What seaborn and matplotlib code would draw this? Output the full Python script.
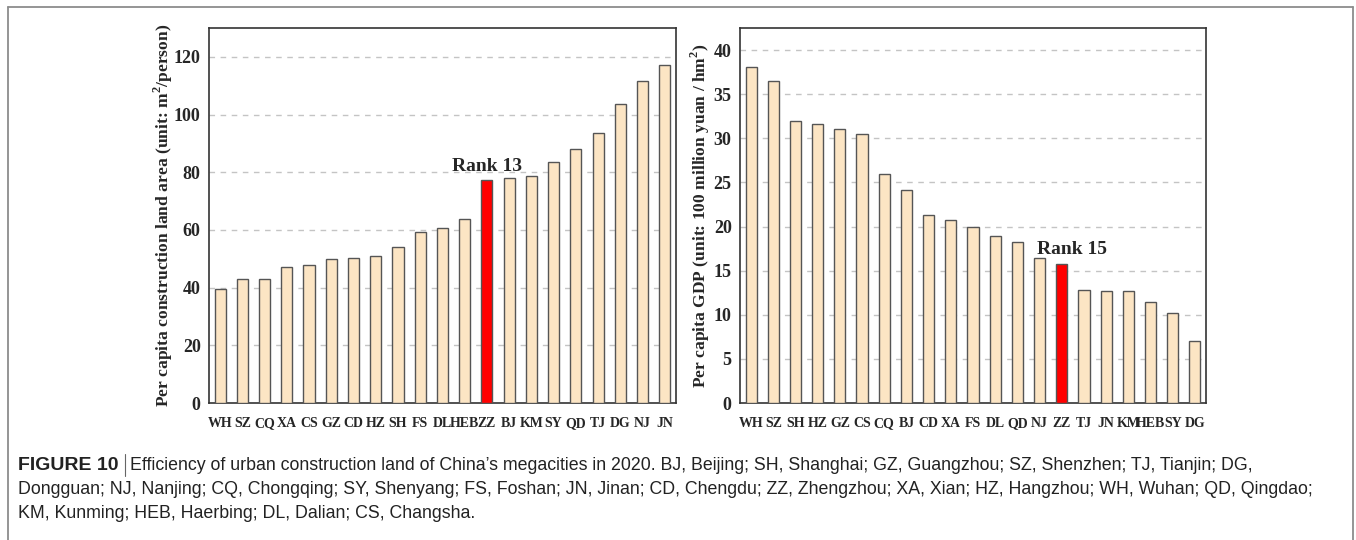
import pandas as pd
import seaborn as sns
import matplotlib.pyplot as plt
import numpy as np

# per capita construction land area (m2/person), sorted ascending
land_cities = ['WH', 'SZ', 'CQ', 'XA', 'CS', 'GZ', 'CD', 'HZ', 'SH', 'FS', 'DL',
               'HEB', 'ZZ', 'BJ', 'KM', 'SY', 'QD', 'TJ', 'DG', 'NJ', 'JN']
land_values = [39.4, 43.1, 43.1, 47.0, 47.8, 49.8, 50.2, 50.9, 54.1, 59.4, 60.5,
               63.9, 77.2, 78.1, 78.6, 83.4, 88.0, 93.5, 103.6, 111.7, 117.3]

# per capita GDP (100 million yuan / hm2), sorted descending
gdp_cities = ['WH', 'SZ', 'SH', 'HZ', 'GZ', 'CS', 'CQ', 'BJ', 'CD', 'XA', 'FS',
              'DL', 'QD', 'NJ', 'ZZ', 'TJ', 'JN', 'KM', 'HEB', 'SY', 'DG']
gdp_values = [38.1, 36.5, 32.0, 31.6, 31.05, 30.5, 26.0, 24.1, 21.3, 20.7, 20.0,
              18.9, 18.3, 16.4, 15.7, 12.8, 12.7, 12.65, 11.45, 10.2, 7.0]

highlight = 'ZZ'
bar_col = '#FCE5C4'
hl_col = '#FF0000'

sns.set_style('white')
plt.rcParams['font.family'] = ['Liberation Serif', 'DejaVu Serif']
plt.rcParams['mathtext.fontset'] = 'custom'
plt.rcParams['mathtext.rm'] = 'Liberation Serif:bold'
plt.rcParams['mathtext.bf'] = 'Liberation Serif:bold'

fig = plt.figure(figsize=(13.56, 5.40), dpi=100)
ax1 = fig.add_axes([0.1541, 0.2537, 0.3444, 0.6944])
ax2 = fig.add_axes([0.5457, 0.2537, 0.3437, 0.6944])


def draw(ax, cities, values, ylim, yticks, ylabel, lpad, rank_text, rank_x, rank_y):
    df = pd.DataFrame({'city': cities, 'value': values})
    pal = {c: (hl_col if c == highlight else bar_col) for c in cities}
    sns.barplot(data=df, x='city', y='value', hue='city', palette=pal,
                order=cities, width=0.5, edgecolor='#555555', linewidth=1.0,
                saturation=1, legend=False, ax=ax, zorder=3)
    ax.set_xlim(-0.5, len(cities) - 0.5)
    ax.set_ylim(*ylim)
    ax.set_yticks(yticks)
    ax.set_yticklabels([str(t) for t in yticks], fontsize=13, fontweight='bold')
    ax.set_xticks(range(len(cities)))
    ax.set_xticklabels(cities, fontsize=10, fontweight='bold')
    for lab in ax.get_xticklabels():
        lab.set_verticalalignment('center_baseline')
    ax.tick_params(axis='x', which='major', length=0, pad=14)
    ax.set_xticks(np.arange(0.5, len(cities) - 0.5, 1), minor=True)
    ax.tick_params(axis='x', which='minor', direction='in', length=3, width=1, color='#333333')
    ax.tick_params(axis='y', which='major', direction='out', length=4, width=1, color='#333333', pad=2)
    for t in yticks[1:]:
        ax.axhline(t, color='#c4c4c4', linestyle=(0, (4, 4)), linewidth=1, zorder=1)
    for s in ax.spines.values():
        s.set_visible(True)
        s.set_color('#333333')
        s.set_linewidth(1.2)
    ax.set_xlabel('')
    ax.set_ylabel(ylabel, fontsize=12.6, fontweight='bold', labelpad=lpad)
    ax.text(rank_x, rank_y, rank_text, ha='center', va='bottom', fontsize=14,
            fontweight='bold', zorder=4)


draw(ax1, land_cities, land_values, (0, 130), [0, 20, 40, 60, 80, 100, 120],
     'Per capita construction land area (unit: m$^2$/person)', -1, 'Rank 13',
     land_cities.index(highlight), 79)
draw(ax2, gdp_cities, gdp_values, (0, 42.5), [0, 5, 10, 15, 20, 25, 30, 35, 40],
     'Per capita GDP (unit: 100 million yuan / hm$^2$)', 1, 'Rank 15',
     gdp_cities.index(highlight) + 0.45, 16.4)

# outer frame (open at the bottom)
fx0, fx1, fy1 = 8 / 1356, 1353 / 1356, 1 - 7 / 540
for xs, ys in [([fx0, fx1], [fy1, fy1]), ([fx0, fx0], [0, fy1]), ([fx1, fx1], [0, fy1])]:
    fig.add_artist(plt.Line2D(xs, ys, color='#8c8c8c', linewidth=1.3, transform=fig.transFigure))

# caption
cap_font = ['Liberation Sans', 'DejaVu Sans']
cap_size = 12.8
caption = [
    "Efficiency of urban construction land of China\u2019s megacities in 2020. BJ, Beijing; SH, Shanghai; GZ, Guangzhou; SZ, Shenzhen; TJ, Tianjin; DG,",
    "Dongguan; NJ, Nanjing; CQ, Chongqing; SY, Shenyang; FS, Foshan; JN, Jinan; CD, Chengdu; ZZ, Zhengzhou; XA, Xian; HZ, Hangzhou; WH, Wuhan; QD, Qingdao;",
    "KM, Kunming; HEB, Haerbing; DL, Dalian; CS, Changsha.",
]
x0 = 18 / 1356
ys = [1 - 465 / 540, 1 - 489 / 540, 1 - 513 / 540]
head = fig.text(x0, ys[0], 'FIGURE 10', family=cap_font, fontsize=14,
                fontweight='bold', va='center', color='#222222')
fig.canvas.draw()
bb = head.get_window_extent()
bar_x = (bb.x1 + 6) / 1356
fig.add_artist(plt.Line2D([bar_x, bar_x], [ys[0] - 0.02, ys[0] + 0.02],
                          color='#666666', linewidth=0.8, transform=fig.transFigure))
fig.text(bar_x + 5 / 1356, ys[0], caption[0], family=cap_font, fontsize=cap_size,
         va='center', color='#222222')
fig.text(x0, ys[1], caption[1], family=cap_font, fontsize=cap_size, va='center', color='#222222')
fig.text(x0, ys[2], caption[2], family=cap_font, fontsize=cap_size, va='center', color='#222222')

fig.savefig('out.png', dpi=100)
